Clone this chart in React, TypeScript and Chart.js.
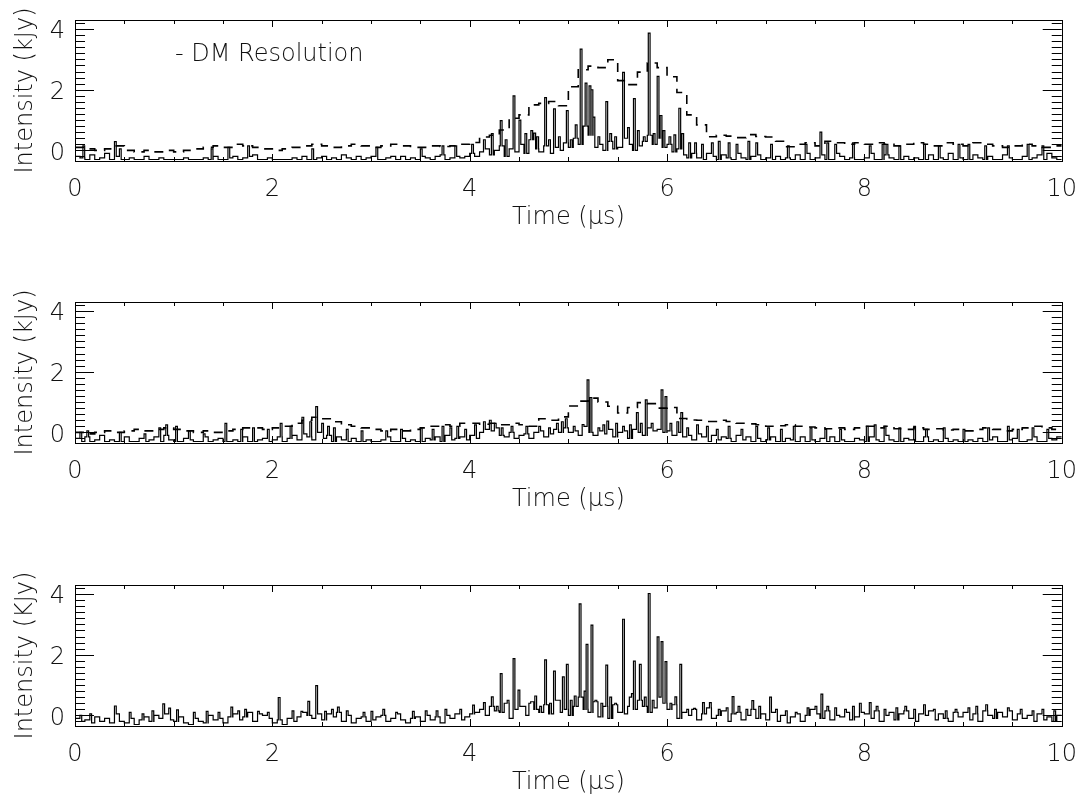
import { useEffect, useRef } from "react";
import { Chart, registerables } from "chart.js";

Chart.register(...registerables);

const FONT = "'DejaVu Sans', 'Liberation Sans', sans-serif";
const TEXT_COLOR = "#111";

// Axis tick labels
const timeTicks = [0, 2, 4, 6, 8, 10];
const intensityTicks = [0, 2, 4];
const X_MIN = 0;
const X_MAX = 10;
const Y_MIN = -0.35;
const Y_MAX = 4.3;

// Bin widths (µs)
const BIN = 0.05;
const DM_BIN = 0.1;
const SPIKE_W = 0.018;

// ---------- Panel 1 ----------
const noise1 = [
  -0.2, -0.25, -0.3, -0.15, -0.3, -0.25, -0.1, -0.3, -0.2, -0.3, -0.3, -0.25, -0.3, -0.3, -0.2, -0.3, -0.3, -0.25, -0.3, -0.3,
  -0.3, -0.3, -0.25, -0.3, -0.3, -0.3, -0.25, -0.3, -0.2, -0.3, -0.3, -0.25, -0.2, -0.3, -0.25, -0.2, -0.15, -0.3, -0.3, -0.25,
  -0.3, -0.3, -0.3, -0.3, -0.25, -0.3, -0.2, -0.3, -0.3, -0.25, -0.2, -0.3, -0.25, -0.3, -0.15, -0.25, -0.3, -0.2, -0.3, -0.25,
  -0.2, -0.3, -0.3, -0.25, -0.2, -0.3, -0.2, -0.3, -0.25, -0.3, -0.2, -0.25, -0.3, -0.2, -0.15, -0.3, -0.25, -0.2, -0.25, -0.2,
  -0.1, -0.2, -0.05, 0.05, -0.15, 0.0, 0.15, -0.2, 0.05, -0.05, 0.2, -0.1, 0.35, 0.05, -0.05, 0.15, -0.1, 0.1, 0.0, 0.25,
  0.1, 0.4, 0.2, 0.8, 0.5, 0.1, 0.2, 0.0, 0.3, 0.05, 0.1, 0.4, 0.2, 0.0, 0.15, 0.3, 0.5, 0.2, 0.4, 0.1,
  0.2, -0.05, 0.05, -0.15, -0.25, -0.1, -0.25, -0.3, -0.1, -0.2, -0.3, -0.15, -0.25, -0.3, -0.1, -0.25, -0.3, -0.2, -0.15, -0.3,
  -0.25, -0.3, -0.2, -0.3, -0.25, -0.3, -0.15, -0.3, -0.1, -0.3, -0.25, -0.15, -0.3, -0.3, -0.1, -0.2, -0.3, -0.25, -0.3, -0.3,
  -0.25, -0.1, -0.3, -0.3, -0.15, -0.25, -0.3, -0.3, -0.2, -0.3, -0.25, -0.3, -0.3, -0.15, -0.3, -0.25, -0.3, -0.1, -0.3, -0.25,
  -0.3, -0.3, -0.15, -0.25, -0.3, -0.2, -0.3, -0.3, -0.15, -0.25, -0.3, -0.3, -0.2, -0.3, -0.25, -0.15, -0.3, -0.1, -0.25, -0.3,
];
const spikes1 = [
  [0.08, 0.15], [0.4, 0.29], [0.45, 0.05], [1.38, 0.05], [1.55, 0.1], [1.75, 0.15], [2.4, 0.05], [3.05, 0.1], [3.5, 0.05], [3.72, 0.15],
  [3.85, 0.15], [4.02, 0.2], [4.14, 0.35], [4.22, 0.55], [4.31, 0.98], [4.36, 0.35], [4.44, 1.8], [4.5, 1.0], [4.56, 0.55], [4.62, 0.65],
  [4.65, 0.57], [4.68, 0.45], [4.76, 1.74], [4.8, 0.35], [4.85, 1.37], [4.9, 0.45], [4.98, 1.31], [5.02, 0.35], [5.07, 0.84], [5.12, 3.34],
  [5.17, 2.22], [5.21, 2.13], [5.23, 2.0], [5.25, 1.1], [5.3, 0.45], [5.38, 1.61], [5.42, 0.55], [5.47, 0.45], [5.55, 2.57], [5.6, 0.75],
  [5.66, 1.71], [5.7, 0.65], [5.76, 0.45], [5.81, 3.87], [5.86, 0.55], [5.9, 2.44], [5.93, 1.15], [5.96, 0.65], [6.02, 0.45], [6.07, 0.51],
  [6.12, 1.39], [6.15, 0.55], [6.22, 0.25], [6.28, 0.25], [6.35, 0.2], [6.45, 0.25], [6.52, 0.3], [6.62, 0.25], [6.7, 0.2], [6.82, 0.3],
  [6.9, 0.25], [7.05, 0.2], [7.22, 0.15], [7.4, 0.2], [7.55, 0.6], [7.62, 0.25], [7.7, 0.2], [7.88, 0.25], [8.05, 0.15], [8.18, 0.2],
  [8.22, 0.2], [8.35, 0.15], [8.6, 0.2], [8.75, 0.15], [8.95, 0.2], [9.05, 0.2], [9.22, 0.15], [9.45, 0.15], [9.65, 0.2], [9.8, 0.15],
];
const dm1 = [
  0.1, 0.05, 0.0, 0.05, 0.15, 0.0, -0.05, 0.0, -0.05, 0.0,
  -0.05, 0.0, 0.05, 0.1, 0.15, 0.1, 0.2, 0.15, 0.1, 0.05,
  0.0, 0.05, 0.1, 0.15, 0.2, 0.15, 0.1, 0.15, 0.2, 0.15,
  0.1, 0.15, 0.2, 0.15, 0.1, 0.1, 0.15, 0.13, 0.15, 0.2,
  0.26, 0.44, 0.5, 0.67, 1.06, 1.17, 1.5, 1.55, 1.61, 1.47,
  2.1, 2.66, 2.78, 2.73, 2.99, 2.3, 2.17, 2.58, 2.88, 2.73,
  2.43, 1.91, 1.17, 0.84, 0.45, 0.5, 0.47, 0.42, 0.52, 0.46,
  0.44, 0.3, 0.12, 0.2, 0.25, 0.15, 0.3, 0.25, 0.2, 0.25,
  0.2, 0.25, 0.2, 0.15, 0.2, 0.25, 0.2, 0.15, 0.25, 0.2,
  0.15, 0.25, 0.2, 0.15, 0.1, 0.15, 0.2, 0.15, 0.1, 0.15,
];

// ---------- Panel 2 ----------
const noise2 = [
  -0.2, -0.3, -0.15, -0.3, -0.25, -0.1, -0.3, -0.25, -0.3, -0.3, -0.15, -0.3, -0.3, -0.2, -0.3, -0.25, -0.15, -0.3, -0.1, -0.25,
  -0.3, -0.3, -0.2, -0.25, -0.3, -0.3, -0.15, -0.3, -0.25, -0.2, -0.3, -0.3, -0.25, -0.3, -0.15, -0.3, -0.3, -0.25, -0.2, -0.3,
  -0.25, -0.15, -0.3, -0.2, -0.1, -0.25, -0.05, -0.15, -0.25, 0.0, -0.2, -0.1, -0.3, -0.15, -0.25, -0.3, -0.2, -0.3, -0.3, -0.25,
  -0.3, -0.3, -0.25, -0.15, -0.3, -0.3, -0.2, -0.3, -0.25, -0.3, -0.3, -0.2, -0.25, -0.15, -0.3, -0.1, -0.25, -0.2, -0.15, -0.25,
  -0.1, -0.2, 0.0, 0.1, 0.05, 0.15, -0.1, -0.15, 0.0, -0.2, -0.1, -0.05, -0.2, 0.0, 0.05, -0.15, -0.05, 0.1, 0.0, 0.15,
  0.0, 0.05, -0.1, 0.2, 0.0, -0.1, 0.05, -0.05, 0.1, -0.15, 0.0, 0.05, -0.2, 0.1, 0.0, -0.1, 0.15, 0.05, 0.1, 0.0,
  0.05, -0.1, 0.0, -0.15, -0.1, -0.25, -0.05, -0.15, -0.3, -0.1, -0.25, -0.15, -0.2, -0.3, -0.1, -0.25, -0.15, -0.3, -0.2, -0.3,
  -0.25, -0.15, -0.3, -0.3, -0.2, -0.25, -0.3, -0.15, -0.3, -0.25, -0.3, -0.2, -0.3, -0.15, -0.3, -0.25, -0.3, -0.3, -0.2, -0.25,
  -0.3, -0.15, -0.25, -0.3, -0.1, -0.25, -0.3, -0.3, -0.2, -0.25, -0.3, -0.3, -0.15, -0.3, -0.25, -0.3, -0.2, -0.3, -0.25, -0.3,
  -0.3, -0.25, -0.3, -0.2, -0.3, -0.25, -0.15, -0.3, -0.3, -0.25, -0.2, -0.3, -0.3, -0.25, -0.15, -0.3, -0.3, -0.2, -0.25, -0.15,
];
const spikes2 = [
  [0.05, 0.0], [0.12, 0.05], [0.45, 0.0], [0.7, -0.05], [0.85, 0.15], [0.92, 0.25], [1.02, 0.2], [1.15, 0.05], [1.3, -0.05], [1.52, 0.3],
  [1.68, 0.1], [1.8, 0.15], [1.95, 0.1], [2.08, 0.3], [2.18, 0.2], [2.3, 0.5], [2.38, 0.35], [2.44, 0.85], [2.5, 0.3], [2.56, 0.2],
  [2.62, 0.15], [2.75, 0.1], [2.9, 0.05], [3.15, 0.05], [3.3, 0.1], [3.5, 0.15], [3.62, 0.1], [3.72, 0.2], [3.8, 0.15], [3.87, 0.2],
  [3.95, 0.1], [4.05, 0.25], [4.14, 0.35], [4.2, 0.4], [4.25, 0.3], [4.32, 0.15], [4.42, 0.2], [4.57, 0.2], [4.7, 0.2], [4.8, 0.15],
  [4.88, 0.3], [4.93, 0.35], [4.97, 0.45], [5.05, 0.2], [5.14, 0.26], [5.19, 1.73], [5.22, 1.15], [5.3, 0.15], [5.35, 0.25], [5.39, 0.37],
  [5.48, 0.3], [5.55, 0.2], [5.62, 0.25], [5.69, 0.65], [5.73, 0.3], [5.78, 1.07], [5.84, 0.3], [5.94, 1.4], [5.98, 1.18], [6.03, 0.3],
  [6.1, 0.35], [6.14, 0.65], [6.2, 0.15], [6.3, 0.25], [6.4, 0.2], [6.5, 0.1], [6.62, 0.2], [6.75, 0.1], [6.9, 0.2], [7.02, 0.15],
  [7.15, 0.1], [7.28, 0.2], [7.45, 0.15], [7.6, 0.1], [7.75, 0.1], [8.02, 0.2], [8.1, 0.25], [8.2, 0.2], [8.35, 0.15], [8.5, 0.2],
  [8.62, 0.1], [8.8, 0.15], [9.0, 0.1], [9.25, 0.15], [9.45, 0.2], [9.55, 0.1], [9.7, 0.15], [9.85, 0.1],
];
const dm2 = [
  0.0, -0.05, 0.0, 0.05, 0.0, 0.05, 0.1, 0.05, 0.1, 0.15,
  0.1, 0.05, 0.0, 0.05, 0.0, 0.05, 0.1, 0.15, 0.15, 0.1,
  0.15, 0.2, 0.3, 0.4, 0.5, 0.45, 0.35, 0.25, 0.2, 0.15,
  0.1, 0.05, 0.1, 0.05, 0.1, 0.15, 0.2, 0.25, 0.2, 0.3,
  0.3, 0.27, 0.3, 0.25, 0.3, 0.25, 0.2, 0.45, 0.4, 0.51,
  0.87, 1.03, 1.13, 1.0, 0.86, 0.64, 0.82, 0.98, 0.95, 0.8,
  0.82, 0.46, 0.41, 0.4, 0.36, 0.4, 0.36, 0.3, 0.28, 0.25,
  0.2, 0.22, 0.25, 0.2, 0.18, 0.15, 0.12, 0.15, 0.1, 0.15,
  0.2, 0.15, 0.2, 0.12, 0.1, 0.15, 0.1, 0.12, 0.08, 0.1,
  0.05, 0.1, 0.15, 0.1, 0.05, 0.1, 0.15, 0.2, 0.15, 0.1,
];

// ---------- Panel 3 ----------
const noise3 = [
  -0.1, -0.2, -0.15, -0.25, -0.05, -0.2, -0.1, -0.25, 0.05, -0.2, -0.25, -0.1, -0.3, -0.15, -0.05, -0.2, 0.0, -0.1, 0.05, -0.15,
  -0.2, -0.05, -0.25, -0.3, -0.1, -0.2, -0.25, 0.0, -0.15, -0.1, -0.25, -0.05, 0.05, -0.15, -0.05, 0.1, -0.2, 0.05, 0.0, -0.1,
  -0.25, -0.15, -0.3, -0.1, -0.2, -0.05, 0.1, 0.0, -0.1, 0.05, -0.15, 0.05, -0.05, 0.1, -0.2, 0.0, -0.25, -0.1, -0.05, -0.2,
  -0.15, -0.05, 0.0, -0.2, -0.1, 0.05, -0.15, -0.25, -0.1, -0.05, -0.2, 0.0, -0.15, -0.05, -0.25, 0.0, -0.1, 0.05, -0.15, -0.05,
  0.05, 0.1, 0.2, 0.0, 0.3, 0.15, 0.1, 0.4, -0.1, 0.2, 0.3, 0.0, 0.45, 0.2, 0.1, 0.35, 0.05, 0.5, 0.1, 0.2,
  0.0, 0.3, 0.6, 0.2, 0.1, 0.45, -0.05, 0.3, -0.1, 0.35, 0.1, 0.05, 0.6, 0.2, 0.5, 0.3, 0.1, 0.25, 0.6, 0.4,
  0.2, 0.35, -0.1, 0.1, 0.0, 0.2, -0.15, 0.05, 0.25, -0.1, 0.0, 0.15, -0.2, 0.05, 0.1, -0.15, 0.0, 0.2, -0.1, 0.05,
  -0.15, 0.1, -0.2, 0.0, -0.25, -0.05, 0.05, -0.2, 0.0, 0.2, 0.05, -0.1, 0.15, -0.15, 0.0, -0.05, 0.1, -0.15, -0.05, 0.1,
  0.05, -0.1, 0.15, -0.2, 0.0, 0.1, -0.15, 0.05, 0.15, -0.1, -0.2, 0.05, 0.0, 0.15, -0.15, 0.05, -0.1, -0.2, 0.1, -0.05,
  0.1, -0.15, 0.05, -0.2, 0.15, 0.0, -0.1, 0.1, -0.05, 0.15, -0.15, 0.05, -0.1, 0.0, -0.2, 0.05, -0.15, -0.05, -0.2, 0.0,
];
const spikes3 = [
  [0.05, 0.0], [0.15, 0.05], [0.4, 0.31], [0.55, 0.1], [0.68, 0.05], [0.78, 0.15], [0.89, 0.38], [0.95, 0.24], [1.03, 0.18], [1.2, 0.1],
  [1.33, 0.13], [1.45, 0.1], [1.58, 0.27], [1.65, 0.15], [1.72, 0.2], [1.85, 0.13], [1.95, 0.1], [2.06, 0.59], [2.2, 0.15], [2.29, 0.13],
  [2.36, 0.46], [2.44, 0.98], [2.53, 0.13], [2.6, 0.2], [2.66, 0.27], [2.75, 0.15], [2.92, 0.1], [3.0, 0.13], [3.12, 0.2], [3.25, 0.1],
  [3.42, 0.13], [3.55, 0.15], [3.66, 0.15], [3.75, 0.2], [3.9, 0.2], [4.03, 0.34], [4.14, 0.42], [4.22, 0.61], [4.27, 0.3], [4.31, 1.38],
  [4.38, 0.5], [4.44, 1.87], [4.49, 0.83], [4.55, 0.3], [4.6, 0.4], [4.66, 0.64], [4.71, 0.3], [4.76, 1.83], [4.81, 0.4], [4.85, 1.46],
  [4.9, 0.5], [4.94, 1.27], [4.98, 1.68], [5.02, 0.5], [5.06, 0.64], [5.11, 3.68], [5.16, 0.8], [5.18, 2.34], [5.23, 2.98], [5.27, 0.5],
  [5.33, 0.4], [5.38, 1.66], [5.42, 0.6], [5.47, 0.4], [5.55, 3.17], [5.6, 0.3], [5.64, 0.72], [5.66, 1.79], [5.72, 1.68], [5.77, 0.6],
  [5.81, 4.02], [5.85, 0.5], [5.9, 2.59], [5.94, 2.43], [5.98, 1.77], [6.03, 0.4], [6.08, 0.61], [6.13, 1.68], [6.2, 0.2], [6.27, 0.23],
  [6.36, 0.42], [6.43, 0.42], [6.52, 0.2], [6.6, 0.25], [6.66, 0.62], [6.72, 0.3], [6.8, 0.2], [6.86, 0.49], [6.93, 0.3], [7.04, 0.6],
  [7.1, 0.2], [7.2, 0.15], [7.3, 0.1], [7.42, 0.25], [7.5, 0.3], [7.56, 0.7], [7.62, 0.3], [7.7, 0.25], [7.8, 0.2], [7.88, 0.3],
  [7.95, 0.4], [8.05, 0.42], [8.12, 0.3], [8.2, 0.2], [8.32, 0.25], [8.41, 0.3], [8.5, 0.2], [8.6, 0.35], [8.7, 0.2], [8.82, 0.15],
  [8.92, 0.2], [9.05, 0.25], [9.13, 0.3], [9.23, 0.35], [9.32, 0.2], [9.45, 0.25], [9.58, 0.2], [9.7, 0.15], [9.8, 0.2], [9.92, 0.15],
];

// ---------- helpers ----------
function buildSolid(base: number[], spikes: number[][]) {
  const xs = new Set<number>();
  base.forEach((_, i) => xs.add(+(i * BIN).toFixed(4)));
  spikes.forEach(([t]) => {
    xs.add(+t.toFixed(4));
    xs.add(+(t + SPIKE_W).toFixed(4));
  });
  const sorted = Array.from(xs).filter((v) => v < X_MAX).sort((a, b) => a - b);
  const pts = sorted.map((x) => {
    let y = base[Math.min(base.length - 1, Math.floor(x / BIN + 1e-9))];
    for (const [t, h] of spikes) {
      if (x >= t - 1e-9 && x < t + SPIKE_W - 1e-9) y = h;
    }
    return { x, y };
  });
  pts.push({ x: X_MAX, y: pts[pts.length - 1].y });
  return pts;
}

function buildSteps(values: number[], width: number) {
  const pts = values.map((v, i) => ({ x: +(i * width).toFixed(4), y: v }));
  pts.push({ x: X_MAX, y: values[values.length - 1] });
  return pts;
}

const framePlugin = {
  id: "idlFrame",
  afterDatasetsDraw(chart: any, _args: any, opts: any) {
    const { ctx, chartArea, scales } = chart;
    const { left, right, top, bottom } = chartArea;
    const xs = scales.x;
    const ys = scales.y;
    ctx.save();
    ctx.strokeStyle = "#000";
    ctx.lineWidth = 1;
    ctx.strokeRect(Math.round(left) + 0.5, Math.round(top) + 0.5, Math.round(right - left), Math.round(bottom - top));
    ctx.beginPath();
    for (let k = 0; k <= 20; k++) {
      const v = k * 0.5;
      const px = Math.round(xs.getPixelForValue(v)) + 0.5;
      const len = k % 4 === 0 ? 7 : 4;
      ctx.moveTo(px, top);
      ctx.lineTo(px, top + len);
      ctx.moveTo(px, bottom);
      ctx.lineTo(px, bottom - len);
    }
    for (let k = -1; k <= 21; k++) {
      const v = k * 0.2;
      if (v < Y_MIN || v > Y_MAX) continue;
      const py = Math.round(ys.getPixelForValue(v)) + 0.5;
      const len = k % 10 === 0 ? 19 : 10;
      ctx.moveTo(left, py);
      ctx.lineTo(left + len, py);
      ctx.moveTo(right, py);
      ctx.lineTo(right - len, py);
    }
    ctx.stroke();

    // y tick labels, placed with the y scale
    ctx.fillStyle = TEXT_COLOR;
    ctx.font = `200 24px ${FONT}`;
    ctx.textBaseline = "middle";
    ctx.textAlign = "right";
    for (const v of intensityTicks) {
      ctx.fillText(String(v), left - 10, ys.getPixelForValue(v) + 3);
    }

    if (opts && opts.legend) {
      ctx.textAlign = "left";
      ctx.fillText(opts.legend, 175, 55);
    }
    ctx.restore();
  },
};

type PanelProps = {
  top: number;
  solid: { x: number; y: number }[];
  dm?: { x: number; y: number }[];
  yTitle: string;
  legend?: string;
};

function Panel({ top, solid, dm, yTitle, legend }: PanelProps) {
  const ref = useRef<HTMLCanvasElement | null>(null);
  useEffect(() => {
    if (!ref.current) return;
    const font = { family: FONT, size: 24, weight: "200" as any };
    const datasets: any[] = [
      {
        data: solid,
        borderColor: "#000",
        borderWidth: 1.2,
        stepped: "before",
        pointRadius: 0,
        fill: false,
      },
    ];
    if (dm) {
      datasets.push({
        data: dm,
        borderColor: "#000",
        borderWidth: 1.6,
        borderDash: [9, 7],
        stepped: "before",
        pointRadius: 0,
        fill: false,
      });
    }
    const chart = new Chart(ref.current, {
      type: "line",
      data: { datasets },
      options: {
        animation: false,
        responsive: false,
        events: [],
        layout: { padding: { left: 0, right: 23, top: 20, bottom: 0 } },
        plugins: {
          legend: { display: false },
          tooltip: { enabled: false },
          idlFrame: { legend },
        } as any,
        scales: {
          x: {
            type: "linear",
            min: X_MIN,
            max: X_MAX,
            afterBuildTicks: (s: any) => {
              s.ticks = timeTicks.map((v) => ({ value: v }));
            },
            afterFit: (s: any) => {
              s.height = 121;
            },
            grid: { display: false, drawTicks: false },
            border: { display: false },
            ticks: {
              padding: 14,
              color: TEXT_COLOR,
              font,
              maxRotation: 0,
              autoSkip: false,
              callback: (v: any) => String(v),
            },
            title: {
              display: true,
              text: "Time (μs)",
              color: TEXT_COLOR,
              font,
              padding: { top: 0, bottom: 50 },
            },
          },
          y: {
            type: "linear",
            min: Y_MIN,
            max: Y_MAX,
            afterBuildTicks: (s: any) => {
              s.ticks = intensityTicks.map((v) => ({ value: v }));
            },
            afterFit: (s: any) => {
              s.width = 75;
            },
            grid: { display: false, drawTicks: false },
            border: { display: false },
            ticks: { display: false },
            title: {
              display: true,
              text: yTitle,
              color: TEXT_COLOR,
              font,
              padding: { top: 11, bottom: 0 },
            },
          },
        },
      } as any,
      plugins: [framePlugin as any],
    });
    return () => chart.destroy();
  }, [solid, dm, yTitle, legend]);
  return (
    <div style={{ position: "absolute", left: 0, top, width: 1091, height: 282 }}>
      <canvas ref={ref} width={1091} height={282} style={{ display: "block", width: 1091, height: 282 }} />
    </div>
  );
}

const solid1 = buildSolid(noise1, spikes1);
const solid2 = buildSolid(noise2, spikes2);
const solid3 = buildSolid(noise3, spikes3);
const dmLine1 = buildSteps(dm1, DM_BIN);
const dmLine2 = buildSteps(dm2, DM_BIN);

export default function App() {
  return (
    <div
      style={{
        position: "fixed",
        left: 0,
        top: 0,
        width: 1091,
        height: 804,
        background: "#fff",
        overflow: "hidden",
      }}
    >
      <Panel top={0} solid={solid1} dm={dmLine1} yTitle="Intensity (kJy)" legend="- DM Resolution" />
      <Panel top={282} solid={solid2} dm={dmLine2} yTitle="Intensity (kJy)" />
      <Panel top={565} solid={solid3} yTitle="Intensity (KJy)" />
    </div>
  );
}
